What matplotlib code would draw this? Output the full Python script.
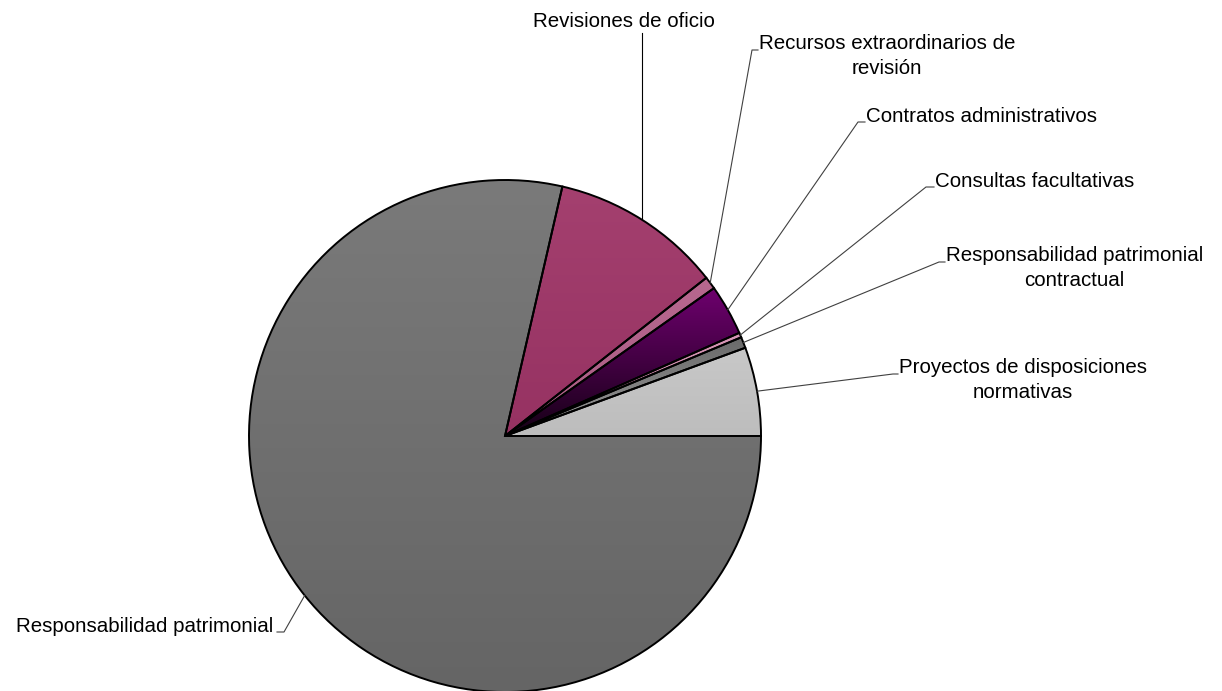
import numpy as np
import matplotlib.pyplot as plt
from matplotlib.colors import LinearSegmentedColormap

# share of opinions by type (percent)
labels = ['Proyectos de disposiciones\nnormativas',
          'Responsabilidad patrimonial\ncontractual',
          'Consultas facultativas',
          'Contratos administrativos',
          'Recursos extraordinarios de\nrevisión',
          'Revisiones de oficio',
          'Responsabilidad patrimonial']
values = [5.6, 0.7, 0.3, 3.2, 0.8, 10.8, 78.6]

# gradient colours (top, bottom) per slice
grads = [('#c8c8c8', '#bdbdbd'),
         ('#6a6a6a', '#9a9a9a'),
         ('#d898b8', '#c07898'),
         ('#6e006e', '#150015'),
         ('#b8688f', '#a85c84'),
         ('#a4406f', '#963262'),
         ('#7a7a7a', '#656565')]

# label layout in pixels: text x, first baseline y, elbow x, elbow y
lay = [(899, 374, 893, 374),
       (946, 262, 939, 262),
       (935, 187, 926, 187),
       (866, 122, 858, 122),
       (759, 50, 752, 50),
       (624, 27, None, 33),
       (273, 632, 284, 632)]

W, H = 1222, 691
cx, cy, R = 505, 436, 256

fig = plt.figure(figsize=(W / 100, H / 100), dpi=100)
ax = fig.add_axes([0, 0, 1, 1])
plt.rcParams['font.family'] = ['Liberation Sans', 'DejaVu Sans']

def Y(y):
    return H - y

wedges, _ = ax.pie(values, startangle=0, counterclock=True, center=(cx, Y(cy)),
                   radius=R, frame=True,
                   wedgeprops=dict(edgecolor='black', linewidth=1.4, facecolor='none'))
ax.set_xlim(0, W)
ax.set_ylim(0, H)
ax.axis('off')

yy = np.linspace(0, 1, 256).reshape(-1, 1)
for w, (c1, c2) in zip(wedges, grads):
    cmap = LinearSegmentedColormap.from_list('g', [c1, c2])
    bb = w.get_path().get_extents(w.get_patch_transform())
    im = ax.imshow(yy, cmap=cmap, aspect='auto', interpolation='bilinear',
                   extent=[bb.x0, bb.x1, bb.y0, bb.y1], origin='upper', zorder=0.5)
    im.set_clip_path(w)
    w.set_zorder(1)

fs = 14.8
for w, lab, (tx, ty, ex, ey) in zip(wedges, labels, lay):
    ang = np.deg2rad((w.theta1 + w.theta2) / 2)
    px = cx + R * np.cos(ang)
    py = cy - R * np.sin(ang)
    # baseline alignment uses the last line, so push multi-line labels down
    ty_last = ty + 24 * lab.count('\n')
    if ex is None:
        # straight vertical leader up to the label
        ax.plot([px, px], [Y(py), Y(ey)], color='black', lw=0.8, zorder=2)
        ax.text(tx, Y(ty_last), lab, ha='center', va='baseline', fontsize=fs)
    elif tx < cx:
        ax.plot([px, ex, tx + 4], [Y(py), Y(ey), Y(ey)], color='#404040', lw=0.8, zorder=2)
        ax.text(tx, Y(ty_last), lab, ha='right', va='baseline', fontsize=fs)
    else:
        ax.plot([px, ex, tx - 1], [Y(py), Y(ey), Y(ey)], color='#404040', lw=0.8, zorder=2)
        ax.text(tx, Y(ty_last), lab, ha='left', va='baseline', fontsize=fs,
                multialignment='center', linespacing=1.4)

fig.savefig('out.png', dpi=100, facecolor='white')
